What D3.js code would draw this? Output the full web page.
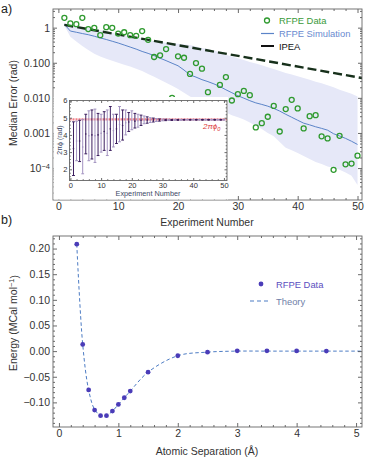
<!DOCTYPE html>
<html>
<head>
<meta charset="utf-8">
<script src="https://cdn.jsdelivr.net/npm/d3@7"></script>
<style>
  body { margin: 0; background: #fff; }
  svg { display: block; font-family: "Liberation Sans", Arial, sans-serif; }
  .tick text { fill: #333; }
  .ttl { fill: #333; }
</style>
</head>
<body>
<svg id="chart" width="374" height="464"></svg>
<script>
// ---------- panel a data (experiment number 1..50) ----------
const rfpeErr = [1.9, 1.32, 1.26, 1.9, 0.91, 0.99, 0.61, 1.03, 0.99, 0.68,
  0.74, 0.61, 0.585, 0.80, 0.45, 0.146, 0.163, 0.245, 0.0100, 0.152,
  0.139, 0.048, 0.098, 0.068, 0.0145, 0.0025, 0.0233, 0.039, 0.0084, 0.0127,
  0.0158, 0.0119, 0.00144, 0.0019, 0.0029, 0.0059, 0.0011, 0.0048, 0.0088, 0.0050,
  0.00135, 0.0030, 0.0032, 0.00080, 0.0007, 0.000089, 0.00083, 0.000128, 0.000134, 0.000226];

const simMedian = [1.25, 0.80, 0.74, 0.68, 0.63, 0.57, 0.51, 0.46, 0.41, 0.365,
  0.32, 0.28, 0.245, 0.21, 0.185, 0.16, 0.135, 0.115, 0.097, 0.082,
  0.062, 0.045, 0.039, 0.033, 0.029, 0.025, 0.021, 0.017, 0.014, 0.0115,
  0.0098, 0.0083, 0.0072, 0.0065, 0.0058, 0.0050, 0.0042, 0.0034, 0.0028, 0.0023,
  0.0019, 0.0017, 0.0015, 0.00135, 0.0012, 0.00095, 0.00082, 0.0007, 0.00058, 0.00047];

const simHigh = [1.34, 1.25, 1.1, 1.03, 0.97, 0.9, 0.85, 0.8, 0.72, 0.65,
  0.61, 0.57, 0.54, 0.49, 0.45, 0.41, 0.39, 0.37, 0.36, 0.35,
  0.33, 0.32, 0.29, 0.265, 0.245, 0.22, 0.2, 0.17, 0.15, 0.135,
  0.12, 0.105, 0.095, 0.085, 0.075, 0.066, 0.058, 0.051, 0.046, 0.041,
  0.037, 0.033, 0.029, 0.026, 0.023, 0.02, 0.017, 0.015, 0.013, 0.011];

const simLow = [1.15, 0.55, 0.4, 0.3, 0.23, 0.18, 0.15, 0.13, 0.115, 0.1,
  0.088, 0.078, 0.068, 0.058, 0.048, 0.04, 0.033, 0.027, 0.022, 0.018,
  0.014, 0.011, 0.009, 0.0075, 0.0062, 0.0052, 0.0045, 0.0038, 0.0032, 0.0028,
  0.0024, 0.002, 0.0016, 0.0013, 0.001, 0.0008, 0.00055, 0.00038, 0.00032, 0.00027,
  0.00022, 0.00018, 0.00015, 0.00013, 0.00011, 0.0001, 0.00009, 0.000075, 0.00006, 0.000033];

const ipeaN = [1, 51];
const ipeaErr = [1.2, 0.036];

// inset: 2*pi*phi estimates per experiment
const phaseLow = [1.64, 2.5, 2.45, 1.74, 2.9, 2.5, 2.6, 2.4, 2.8, 3.0,
  3.1, 2.8, 3.1, 3.3, 3.5, 3.6, 3.7, 4.0, 4.2, 4.3,
  4.4, 4.45, 4.55, 4.65, 4.68, 4.72, 4.75, 4.78, 4.8, 4.82,
  4.83, 4.84, 4.84, 4.85, 4.85, 4.85, 4.86, 4.86, 4.86, 4.86,
  4.86, 4.86, 4.86, 4.86, 4.86, 4.86, 4.86, 4.86, 4.86, 4.86];
const phaseHigh = [4.76, 4.8, 4.85, 4.9, 5.2, 5.4, 5.45, 5.5, 5.25, 5.2,
  5.35, 5.45, 5.65, 5.2, 5.2, 5.65, 5.45, 5.45, 5.3, 5.4,
  5.25, 5.2, 5.15, 5.1, 5.05, 5.0, 4.98, 4.95, 4.93, 4.92,
  4.91, 4.91, 4.9, 4.9, 4.9, 4.9, 4.9, 4.9, 4.9, 4.9,
  4.9, 4.9, 4.9, 4.9, 4.9, 4.9, 4.9, 4.9, 4.9, 4.9];
const phaseMid = [3.2, 3.65, 3.65, 3.3, 4.05, 3.95, 4.0, 3.95, 4.0, 4.1,
  4.2, 4.1, 4.35, 4.25, 4.35, 4.6, 4.55, 4.7, 4.75, 4.85,
  4.8, 4.82, 4.85, 4.87, 4.86, 4.86, 4.86, 4.87, 4.87, 4.87,
  4.87, 4.87, 4.87, 4.87, 4.87, 4.87, 4.88, 4.88, 4.88, 4.88,
  4.88, 4.88, 4.88, 4.88, 4.88, 4.88, 4.88, 4.88, 4.88, 4.88];
const phaseTrue = 4.9;

// ---------- panel b data ----------
const sepA = [0.3, 0.4, 0.5, 0.6, 0.7, 0.8, 0.9, 1.0, 1.1, 1.2, 1.5, 2.0, 2.5, 3.0, 3.5, 4.0, 4.5];
const energy = [0.2085, 0.013, -0.0757, -0.115, -0.126, -0.126, -0.117, -0.104, -0.091, -0.078,
  -0.041, -0.009, -0.002, 0.0005, 0.0005, 0.0004, 0.0];
const theorySep = [0.3, 0.4, 0.5, 0.6, 0.7, 0.75, 0.8, 0.9, 1.0, 1.1, 1.2, 1.5, 2.0, 2.5, 3.0, 3.5, 4.0, 4.5, 5.1];
const theoryE = [0.2085, 0.013, -0.076, -0.114, -0.126, -0.128, -0.126, -0.117, -0.104, -0.091,
  -0.078, -0.041, -0.009, -0.002, 0.0, 0.0, 0.0, 0.0, 0.0];

const expNum = rfpeErr.map((d, i) => i + 1);

const svg = d3.select('#chart');

// draw Mathematica-style frame: inward ticks on all four sides
function frame(g, x, y, o) {
  const [x0, x1] = x.range(), [y1, y0] = y.range();
  const put = (axis, tx, ty, cls) => g.append('g')
      .attr('class', cls || '')
      .attr('transform', `translate(${tx},${ty})`)
      .call(axis)
      .call(s => s.select('.domain').remove())
      .call(s => s.selectAll('line').attr('stroke', '#444').attr('stroke-width', 0.8));
  const fs = o.fontSize;
  put(d3.axisBottom(x).tickValues(o.xMajor).tickSize(-o.big).tickPadding(o.padX).tickFormat(o.xFmt), 0, y1)
    .selectAll('text').attr('font-size', fs);
  put(d3.axisBottom(x).tickValues(o.xMinor).tickSize(-o.small).tickFormat(''), 0, y1);
  put(d3.axisTop(x).tickValues(o.xMajor).tickSize(-o.big).tickFormat(''), 0, y0);
  put(d3.axisTop(x).tickValues(o.xMinor).tickSize(-o.small).tickFormat(''), 0, y0);
  const yl = put(d3.axisLeft(y).tickValues(o.yMajor).tickSize(-o.big).tickPadding(o.padY).tickFormat(o.yFmt), x0, 0);
  yl.selectAll('text').attr('font-size', fs);
  put(d3.axisLeft(y).tickValues(o.yMinor).tickSize(-o.small).tickFormat(''), x0, 0);
  put(d3.axisRight(y).tickValues(o.yMajor).tickSize(-o.big).tickFormat(''), x1, 0);
  put(d3.axisRight(y).tickValues(o.yMinor).tickSize(-o.small).tickFormat(''), x1, 0);
  g.append('rect').attr('x', x0).attr('y', y0).attr('width', x1 - x0).attr('height', y1 - y0)
    .attr('fill', 'none').attr('stroke', '#666').attr('stroke-width', 0.9);
  return yl;
}

// ================= panel a =================
const xA = d3.scaleLinear().domain([-0.9, 50.75]).range([53, 362]);
const yA = d3.scaleLog().domain([1.23e-5, 3.4]).range([200, 9]);
const gA = svg.append('g');

gA.append('clipPath').attr('id', 'clipA').append('rect')
  .attr('x', 53).attr('y', 9).attr('width', 309).attr('height', 191);
const plotA = gA.append('g').attr('clip-path', 'url(#clipA)');

// simulation spread band
plotA.append('path')
  .datum(expNum)
  .attr('fill', '#e6e8f8')
  .attr('d', d3.area().x(n => xA(n)).y0(n => yA(simLow[n - 1])).y1(n => yA(simHigh[n - 1])));

// simulation median
plotA.append('path')
  .datum(expNum)
  .attr('fill', 'none').attr('stroke', '#5b84c8').attr('stroke-width', 1)
  .attr('d', d3.line().x(n => xA(n)).y(n => yA(simMedian[n - 1])));

// IPEA
plotA.append('path')
  .datum(ipeaN.map((n, i) => [n, ipeaErr[i]]))
  .attr('fill', 'none').attr('stroke', '#17301b').attr('stroke-width', 2.4)
  .attr('stroke-dasharray', '9,4')
  .attr('d', d3.line().x(d => xA(d[0])).y(d => yA(d[1])));

// RFPE data points
plotA.selectAll('.pt').data(expNum).join('circle')
  .attr('class', 'pt')
  .attr('cx', n => xA(n)).attr('cy', n => yA(rfpeErr[n - 1])).attr('r', 2.5)
  .attr('fill', 'none').attr('stroke', '#2f9a2f').attr('stroke-width', 1.3);

const decades = [1e-5, 1e-4, 1e-3, 1e-2, 1e-1, 1];
const logMinor = [];
decades.forEach(p => { for (let k = 2; k <= 9; k++) { const v = p * k; if (v < 3.4 && v > 1.23e-5) logMinor.push(v); } });
const yAfmt = v => v === 1 ? '1' : v === 0.1 ? '0.100' : v === 0.01 ? '0.010' : v === 0.001 ? '0.001' : '10';
const ylA = frame(gA, xA, yA, {
  xMajor: [0, 10, 20, 30, 40, 50], xMinor: d3.range(2, 51, 2).filter(v => v % 10),
  yMajor: [1e-4, 1e-3, 1e-2, 1e-1, 1], yMinor: logMinor,
  xFmt: d3.format('d'), yFmt: yAfmt, big: 4, small: 2, padX: 3, padY: 3, fontSize: 10.5
});
ylA.selectAll('text').filter(v => v === 1e-4)
  .text('10').append('tspan').attr('dy', '-0.45em').attr('font-size', 7.5).text('\u22124');

gA.append('text').attr('class', 'ttl').attr('x', 207).attr('y', 226)
  .attr('text-anchor', 'middle').attr('font-size', 10.5).text('Experiment Number');
gA.append('text').attr('class', 'ttl')
  .attr('transform', 'translate(17,103) rotate(-90)')
  .attr('text-anchor', 'middle').attr('font-size', 10.5).text('Median Error (rad)');
svg.append('text').attr('x', 1).attr('y', 13).attr('font-size', 12.5).attr('fill', '#222').text('a)');

// legend a
const lgA = gA.append('g');
lgA.append('circle').attr('cx', 267).attr('cy', 20.5).attr('r', 2.5)
  .attr('fill', 'none').attr('stroke', '#2f9a2f').attr('stroke-width', 1.3);
lgA.append('text').attr('x', 279).attr('y', 24).attr('font-size', 9.4).attr('fill', '#3a9a3a').text('RFPE Data');
lgA.append('line').attr('x1', 261).attr('x2', 274).attr('y1', 33.5).attr('y2', 33.5)
  .attr('stroke', '#5b84c8').attr('stroke-width', 1.2);
lgA.append('text').attr('x', 279).attr('y', 37).attr('font-size', 9.4).attr('fill', '#6a8ad0').text('RFPE Simulation');
lgA.append('line').attr('x1', 261).attr('x2', 274).attr('y1', 46).attr('y2', 46)
  .attr('stroke', '#111').attr('stroke-width', 2);
lgA.append('text').attr('x', 279).attr('y', 49.5).attr('font-size', 9.4).attr('fill', '#111').text('IPEA');

// ---------- inset ----------
const xI = d3.scaleLinear().domain([-0.3, 51]).range([69.5, 227]);
const yI = d3.scaleLinear().domain([1.35, 6.0]).range([180.5, 100.5]);
const gI = svg.append('g');
gI.append('rect').attr('x', 53.6).attr('y', 97).attr('width', 174.5).attr('height', 102.5).attr('fill', '#fff');

gI.append('line')
  .attr('x1', xI.range()[0]).attr('x2', xI.range()[1])
  .attr('y1', yI(phaseTrue)).attr('y2', yI(phaseTrue))
  .attr('stroke', '#ee5560').attr('stroke-opacity', 0.75).attr('stroke-width', 2.2)
  .attr('stroke-dasharray', '2,1');

const bars = gI.selectAll('.eb').data(expNum).join('g').attr('class', 'eb')
  .attr('stroke', n => n % 2 ? '#3b1d5e' : '#a292c0')
  .attr('stroke-width', 1);
bars.append('line').attr('x1', n => xI(n)).attr('x2', n => xI(n))
  .attr('y1', n => yI(phaseLow[n - 1])).attr('y2', n => yI(phaseHigh[n - 1]));
bars.append('line').attr('x1', n => xI(n) - 1.4).attr('x2', n => xI(n) + 1.4)
  .attr('y1', n => yI(phaseLow[n - 1])).attr('y2', n => yI(phaseLow[n - 1]));
bars.append('line').attr('x1', n => xI(n) - 1.4).attr('x2', n => xI(n) + 1.4)
  .attr('y1', n => yI(phaseHigh[n - 1])).attr('y2', n => yI(phaseHigh[n - 1]));
bars.append('circle').attr('cx', n => xI(n)).attr('cy', n => yI(phaseMid[n - 1])).attr('r', 0.8)
  .attr('fill', n => n % 2 ? '#3b1d5e' : '#a292c0').attr('stroke', 'none');

frame(gI, xI, yI, {
  xMajor: [0, 10, 20, 30, 40, 50], xMinor: d3.range(2, 51, 2).filter(v => v % 10),
  yMajor: [2, 3, 4, 5, 6], yMinor: d3.range(1.4, 6, 0.2).filter(v => Math.abs(v - Math.round(v)) > 0.05),
  xFmt: d3.format('d'), yFmt: d3.format('d'), big: 2.5, small: 1.3, padX: 2, padY: 2, fontSize: 7.5
});
gI.selectAll('.tick text').attr('fill', '#3d4a66');
gI.append('text').attr('x', 148).attr('y', 196).attr('text-anchor', 'middle')
  .attr('font-size', 7.3).attr('fill', '#3d4a66').text('Experiment Number');
gI.append('text').attr('transform', 'translate(62,140) rotate(-90)').attr('text-anchor', 'middle')
  .attr('font-size', 7).attr('fill', '#3d4a66')
  .text('2\u03C0\u03D5 (rad)');
const lbl = gI.append('text').attr('x', 203).attr('y', 129).attr('font-size', 8)
  .attr('font-style', 'italic').attr('fill', '#dd3b3b').text('2\u03C0\u03D5');
lbl.append('tspan').attr('dy', '0.3em').attr('font-size', 5.5).text('0');

// ================= panel b =================
const xB = d3.scaleLinear().domain([-0.1, 5.1]).range([53, 362]);
const yB = d3.scaleLinear().domain([-0.148, 0.2245]).range([427, 236]);
const gB = svg.append('g');

gB.append('path')
  .datum(theorySep.map((s, i) => [s, theoryE[i]]))
  .attr('fill', 'none').attr('stroke', '#4d7cc4').attr('stroke-width', 1)
  .attr('stroke-dasharray', '3.5,2.5')
  .attr('d', d3.line().curve(d3.curveCatmullRom).x(d => xB(d[0])).y(d => yB(d[1])));

gB.selectAll('.dot').data(sepA).join('circle')
  .attr('class', 'dot')
  .attr('cx', s => xB(s)).attr('cy', (s, i) => yB(energy[i])).attr('r', 2.4)
  .attr('fill', '#4a3cb8');

frame(gB, xB, yB, {
  xMajor: [0, 1, 2, 3, 4, 5], xMinor: d3.range(0, 5.11, 0.2).filter(v => Math.abs(v - Math.round(v)) > 0.05),
  yMajor: [-0.10, -0.05, 0, 0.05, 0.10, 0.15, 0.20],
  yMinor: d3.range(-14, 23).map(k => k / 100).filter(v => Math.abs(v * 20 - Math.round(v * 20)) > 0.01),
  xFmt: d3.format('d'), yFmt: d3.format('.2f'), big: 4, small: 2, padX: 3, padY: 3, fontSize: 10.5
});

gB.append('text').attr('class', 'ttl').attr('x', 207).attr('y', 455)
  .attr('text-anchor', 'middle').attr('font-size', 10.5).text('Atomic Separation (\u00C5)');
const yt = gB.append('text').attr('class', 'ttl')
  .attr('transform', 'translate(17,323) rotate(-90)')
  .attr('text-anchor', 'middle').attr('font-size', 10.5).text('Energy (MCal mol');
yt.append('tspan').attr('dy', '-0.45em').attr('font-size', 7.5).text('\u22121');
yt.append('tspan').attr('dy', '0.45em').text(')');
svg.append('text').attr('x', 1).attr('y', 224).attr('font-size', 12.5).attr('fill', '#222').text('b)');

// legend b
gB.append('circle').attr('cx', 261).attr('cy', 284).attr('r', 2.4).attr('fill', '#4a3cb8');
gB.append('text').attr('x', 276).attr('y', 287.5).attr('font-size', 9.4).attr('fill', '#5b4fc0').text('RFPE Data');
gB.append('line').attr('x1', 250).attr('x2', 270).attr('y1', 301).attr('y2', 301)
  .attr('stroke', '#4d7cc4').attr('stroke-width', 1.2).attr('stroke-dasharray', '4,3');
gB.append('text').attr('x', 276).attr('y', 304.5).attr('font-size', 9.4).attr('fill', '#7080a8').text('Theory');
</script>
</body>
</html>
